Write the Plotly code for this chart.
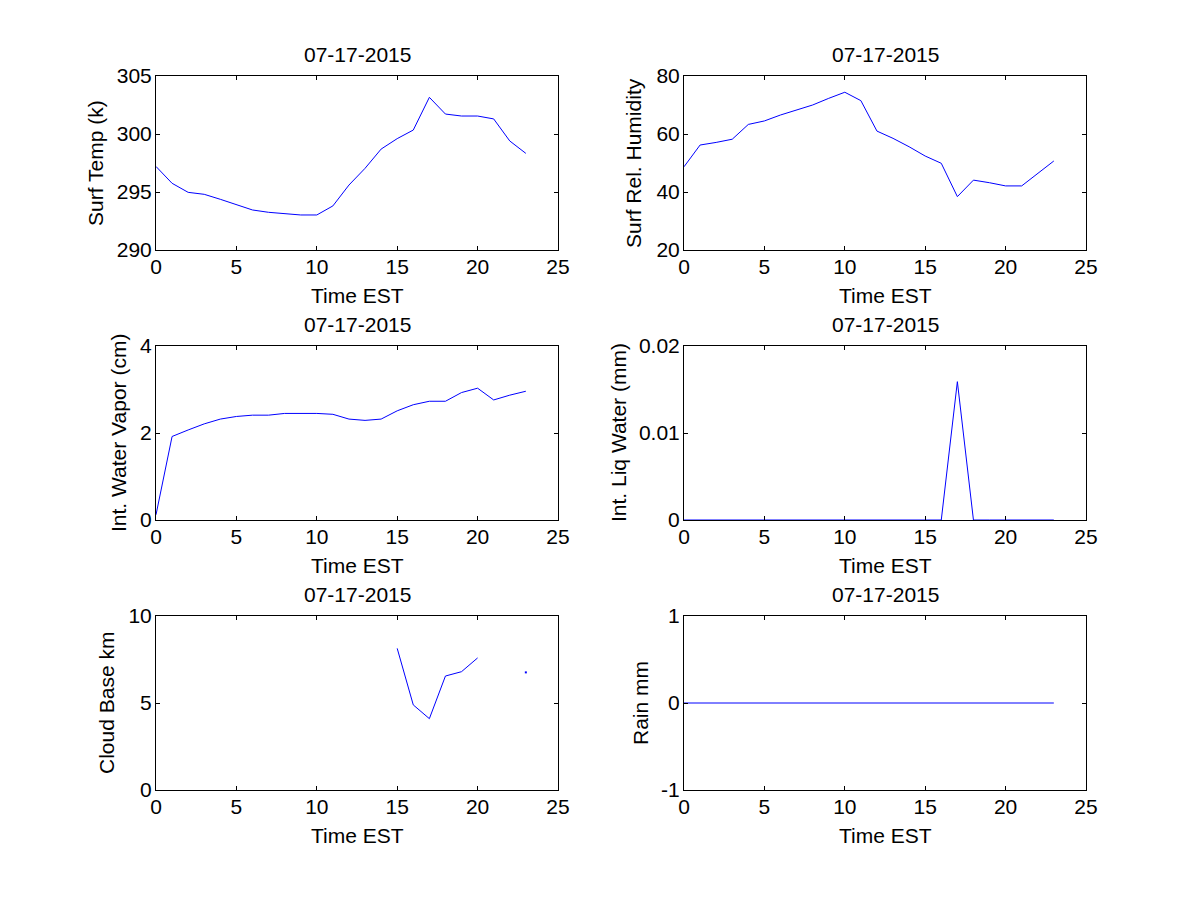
import numpy as np
import plotly.graph_objects as go

nan = float("nan")
hours = list(range(24))
date_title = "07-17-2015"

surf_temp = [297.2, 295.75, 294.97, 294.8, 294.37, 293.88, 293.45, 293.25, 293.16, 293.02,
             293.02, 293.8, 295.6, 297.04, 298.7, 299.6, 300.34, 303.16, 301.72, 301.55,
             301.55, 301.3, 299.4, 298.33]
surf_rh = [48.7, 56.2, 57.1, 58.2, 63.3, 64.5, 66.55, 68.3, 70.0, 72.3,
           74.4, 71.5, 61.0, 58.5, 55.6, 52.4, 49.9, 38.4, 44.1, 43.2,
           42.1, 42.1, 46.4, 50.7]
int_wv = [0.12, 1.92, 2.07, 2.21, 2.32, 2.38, 2.41, 2.41, 2.45, 2.45,
          2.45, 2.43, 2.32, 2.29, 2.32, 2.51, 2.65, 2.73, 2.73, 2.93,
          3.03, 2.76, 2.87, 2.96]
int_lw = [0, 0, 0, 0, 0, 0, 0, 0, 0, 0,
          0, 0, 0, 0, 0, 0, 0, 0.0159, 0, 0,
          0, 0, 0, 0]
cloud_base = [nan, nan, nan, nan, nan, nan, nan, nan, nan, nan,
              nan, nan, nan, nan, nan, 8.14, 4.89, 4.10, 6.55, 6.80,
              7.59, nan, nan, 6.76]
rain = [0] * 24

panels = [
    dict(y=surf_temp, ylabel="Surf Temp (k)", yrange=[290, 305], yticks=[290, 295, 300, 305], ytext=None),
    dict(y=surf_rh, ylabel="Surf Rel. Humidity", yrange=[20, 80], yticks=[20, 40, 60, 80], ytext=None),
    dict(y=int_wv, ylabel="Int. Water Vapor (cm)", yrange=[0, 4], yticks=[0, 2, 4], ytext=None),
    dict(y=int_lw, ylabel="Int. Liq Water (mm)", yrange=[0, 0.02], yticks=[0, 0.01, 0.02], ytext=["0", "0.01", "0.02"]),
    dict(y=cloud_base, ylabel="Cloud Base km", yrange=[0, 10], yticks=[0, 5, 10], ytext=None),
    dict(y=rain, ylabel="Rain mm", yrange=[-1, 1], yticks=[-1, 0, 1], ytext=["-1", "0", "1"]),
]
xticks = [0, 5, 10, 15, 20, 25]

W, H = 1200, 900
OFF = 8  # page body margin offset
col_px = [(156 - OFF, 558 - OFF), (684 - OFF, 1086 - OFF)]
row_px = [(76 - OFF, 250 - OFF), (346 - OFF, 520 - OFF), (616 - OFF, 790 - OFF)]
ylabel_x = [v - OFF for v in [95, 633, 118, 618, 106, 640]]

FONT = "Liberation Sans, Arial, sans-serif"
FS = 21

fig = go.Figure()
layout = dict(
    width=W, height=H, autosize=False, margin=dict(l=0, r=0, t=0, b=0, pad=0, autoexpand=False),
    paper_bgcolor="white", plot_bgcolor="white", showlegend=False,
    font=dict(family=FONT, size=FS, color="black"),
)
annotations = []

for i, p in enumerate(panels):
    r, c = divmod(i, 2)
    x0, x1 = col_px[c]
    y0, y1 = row_px[r]
    ax = "" if i == 0 else str(i + 1)
    xa, ya = "x" + ax, "y" + ax
    fig.add_trace(go.Scatter(x=hours, y=p["y"], mode="lines", xaxis=xa, yaxis=ya,
                             line=dict(color="#0000ff", width=1), connectgaps=False,
                             hoverinfo="skip"))
    # isolated points (NaN on both sides) drawn as tiny dots, like MATLAB
    yv = p["y"]
    iso_x, iso_y = [], []
    for k, v in enumerate(yv):
        if v == v:
            left = yv[k - 1] if k > 0 else nan
            right = yv[k + 1] if k < len(yv) - 1 else nan
            if left != left and right != right:
                iso_x.append(hours[k]); iso_y.append(v)
    if iso_x:
        fig.add_trace(go.Scatter(x=iso_x, y=iso_y, mode="markers", xaxis=xa, yaxis=ya,
                                 marker=dict(color="#0000ff", size=2, symbol="square"),
                                 hoverinfo="skip"))
    common = dict(showline=True, linecolor="black", linewidth=1, mirror="ticks",
                  ticks="inside", ticklen=4, tickcolor="black", tickwidth=1, automargin=False,
                  showgrid=False, zeroline=False, layer="above traces",
                  tickfont=dict(family=FONT, size=FS))
    layout["xaxis" + ax] = dict(domain=[x0 / W, x1 / W], range=[0, 25], tickvals=xticks,
                                anchor=ya, ticklabelstandoff=-2, **common)
    yd = dict(domain=[1 - y1 / H, 1 - y0 / H], range=p["yrange"], tickvals=p["yticks"],
              anchor=xa, ticklabelstandoff=-1, **common)
    if p["ytext"]:
        yd["ticktext"] = p["ytext"]
    layout["yaxis" + ax] = yd
    cx = (x0 + x1) / 2
    annotations.append(dict(text=date_title, x=cx / W, y=1 - (y0 - 22) / H, xref="paper", yref="paper",
                            showarrow=False, xanchor="center", yanchor="middle",
                            font=dict(family=FONT, size=FS)))
    annotations.append(dict(text="Time EST", x=cx / W, y=1 - (y1 + 45) / H, xref="paper", yref="paper",
                            showarrow=False, xanchor="center", yanchor="middle",
                            font=dict(family=FONT, size=FS)))
    annotations.append(dict(text=p["ylabel"], x=ylabel_x[i] / W, y=1 - ((y0 + y1) / 2) / H,
                            xref="paper", yref="paper", textangle=-90,
                            showarrow=False, xanchor="center", yanchor="middle",
                            font=dict(family=FONT, size=FS)))

layout["annotations"] = annotations
fig.update_layout(**layout)
fig.write_html("out.html")
